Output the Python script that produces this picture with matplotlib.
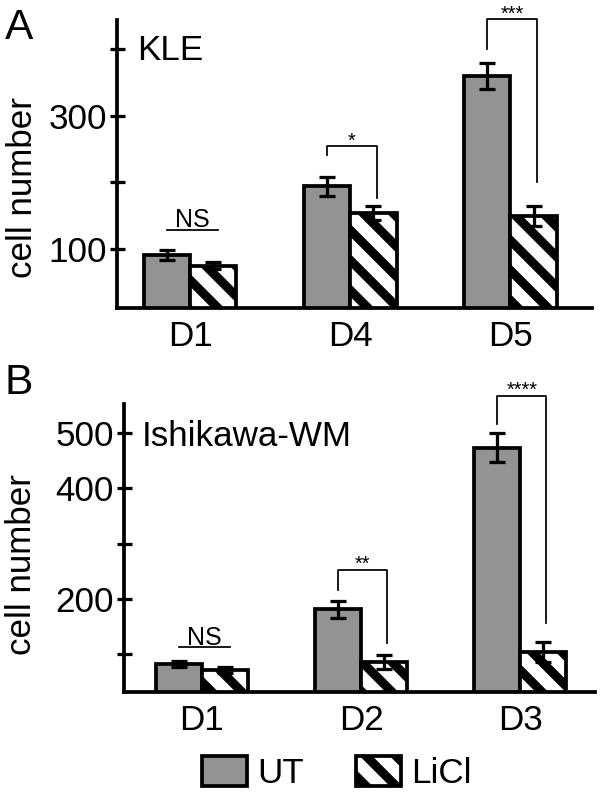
import matplotlib
matplotlib.use("Agg")
import matplotlib.pyplot as plt
from matplotlib.patches import Patch

plt.rcParams['font.family'] = ['Liberation Sans', 'DejaVu Sans']
plt.rcParams['hatch.linewidth'] = 3.6

# ---- data ----
days_a = ["D1", "D4", "D5"]
ut_a = [91, 194, 360]
ut_err_a = [8, 14, 20]
licl_a = [75, 154, 149]
licl_err_a = [5, 11, 15]
sig_a = ["NS", "*", "***"]

days_b = ["D1", "D2", "D3"]
ut_b = [82, 181, 474]
ut_err_b = [6, 16, 26]
licl_b = [71, 86, 104]
licl_err_b = [5, 13, 18]
sig_b = ["NS", "**", "****"]

yticks_a = [100, 200, 300, 400]
yticklabels_a = ["100", "", "300", ""]
yticks_b = [100, 200, 300, 400, 500]
yticklabels_b = ["", "200", "", "400", "500"]

GRAY = "#939393"
HATCH = "\\\\"
W, H = 601, 795
DPI = 180
fig = plt.figure(figsize=(W / DPI, H / DPI), dpi=DPI)


def px(x, y):
    return x / W, 1 - y / H


def panel(rect, days, ut, ut_err, licl, licl_err, ylim, xlim, yticks, ylabels,
          w, brackets, ns):
    ax = fig.add_axes(rect)
    x = list(range(len(days)))
    xu = [i - w / 2 for i in x]
    xl = [i + w / 2 for i in x]
    ax.bar(xu, ut, width=w, color=GRAY, edgecolor="black", linewidth=1.5, zorder=2)
    ax.bar(xl, licl, width=w, color="white", edgecolor="black", linewidth=1.5,
           hatch=HATCH, zorder=2)
    ax.errorbar(xu, ut, yerr=ut_err, fmt="none", ecolor="black", elinewidth=1.3,
                capsize=3.2, capthick=1.3, zorder=3)
    ax.errorbar(xl, licl, yerr=licl_err, fmt="none", ecolor="black", elinewidth=1.3,
                capsize=3.2, capthick=1.3, zorder=3)
    ax.set_xlim(*xlim)
    ax.set_ylim(*ylim)
    ax.set_xticks(x)
    ax.set_xticklabels(days, fontsize=14)
    ax.tick_params(axis="x", length=0, pad=5)
    ax.set_yticks(yticks)
    ax.set_yticklabels(ylabels, fontsize=14)
    ax.tick_params(axis="y", direction="inout", length=6, width=1.3, pad=1)
    for s in ["top", "right"]:
        ax.spines[s].set_visible(False)
    for s in ["left", "bottom"]:
        ax.spines[s].set_linewidth(1.5)
    # NS
    i, ytxt, yline, label = ns
    ax.plot([xu[i], xl[i] + 0.03], [yline, yline], color="black", lw=0.7, clip_on=False)
    ax.text((xu[i] + xl[i] + 0.03) / 2, ytxt, label, ha="center", va="center", fontsize=10)
    # brackets
    for i, ytop, yl, yr, label in brackets:
        ax.plot([xu[i], xu[i], xl[i] + 0.02, xl[i] + 0.02], [yl, ytop, ytop, yr],
                color="black", lw=0.7, clip_on=False)
        ax.text((xu[i] + xl[i] + 0.02) / 2, ytop, label, ha="center", va="baseline",
                fontsize=8, clip_on=False)
    ax.set_facecolor("none")
    return ax


axA = panel([117 / W, 1 - 307.5 / H, 475 / W, 287.5 / H], days_a, ut_a, ut_err_a,
            licl_a, licl_err_a, (12, 444), (-0.456, 2.51), yticks_a, yticklabels_a,
            0.29,
            [(1, 254, 241, 176, sig_a[1]), (2, 445, 401, 200, sig_a[2])],
            (0, 144, 129, sig_a[0]))

axB = panel([124 / W, 1 - 691.7 / H, 471 / W, 287.7 / H], days_b, ut_b, ut_err_b,
            licl_b, licl_err_b, (32, 553), (-0.489, 2.47), yticks_b, yticklabels_b,
            0.29,
            [(1, 252, 216, 121, sig_b[1]), (2, 568, 516, 156, sig_b[2])],
            (0, 129, 112.5, sig_b[0]))

fig.text(*px(5, 28), "A", fontsize=17, ha="left", va="center")
fig.text(*px(5, 383), "B", fontsize=17, ha="left", va="center")
fig.text(*px(137, 50), "KLE", fontsize=14, ha="left", va="center")
fig.text(*px(142, 436), "Ishikawa-WM", fontsize=14, ha="left", va="center")
fig.text(*px(23, 188), "cell number", fontsize=14, rotation=90, ha="center", va="center")
fig.text(*px(22, 565), "cell number", fontsize=14, rotation=90, ha="center", va="center")

handles = [Patch(facecolor=GRAY, edgecolor="black", linewidth=1.5, label="UT"),
           Patch(facecolor="white", edgecolor="black", linewidth=1.5, hatch=HATCH,
                 label="LiCl")]
fig.legend(handles=handles, loc="center", bbox_to_anchor=px(337, 773), ncol=2,
           frameon=False, fontsize=14, handlelength=1.29, handleheight=0.94,
           handletextpad=0.3, columnspacing=1.47)

fig.savefig("out.png", dpi=DPI)
